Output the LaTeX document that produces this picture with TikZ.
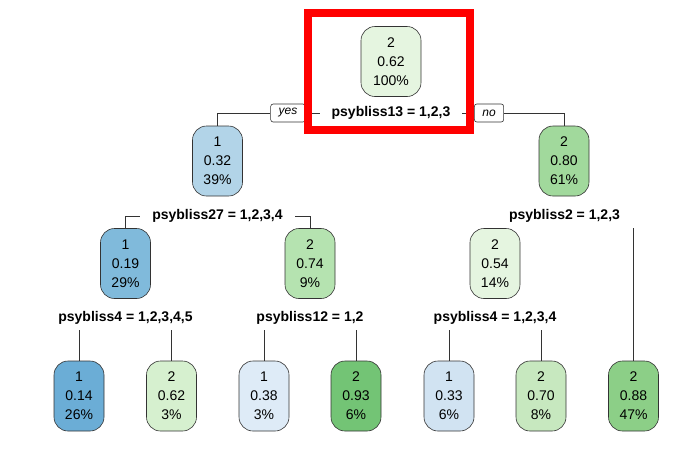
\documentclass[tikz,border=0pt]{standalone}
\usepackage{fontspec}
\setmainfont{Liberation Sans}
\usepackage{xcolor}
\definecolor{blueI}{rgb}{0.42,0.68,0.84}
\definecolor{blueII}{rgb}{0.50,0.73,0.86}
\definecolor{blueIII}{rgb}{0.70,0.83,0.91}
\definecolor{blueIV}{rgb}{0.82,0.89,0.95}
\definecolor{blueV}{rgb}{0.87,0.92,0.97}
\definecolor{greenI}{rgb}{0.90,0.96,0.88}
\definecolor{greenII}{rgb}{0.84,0.94,0.81}
\definecolor{greenIII}{rgb}{0.78,0.91,0.75}
\definecolor{greenIV}{rgb}{0.71,0.89,0.69}
\definecolor{greenV}{rgb}{0.63,0.85,0.61}
\definecolor{greenVI}{rgb}{0.55,0.81,0.53}
\definecolor{greenVII}{rgb}{0.45,0.77,0.46}
\usepackage{tikz}
\usetikzlibrary{backgrounds}

\begin{document}
\begin{tikzpicture}[x=1pt, y=-1pt,
	knot/.style={rectangle, draw=black!80, line width=0.6pt, rounded corners=14pt, align=center,
	             minimum width=50pt, minimum height=70pt, inner sep=0pt,
	             font=\fontsize{14}{19}\selectfont},
	split/.style={fill=white, font=\bfseries\fontsize{14}{16}\selectfont,
	              inner xsep=12pt, inner ysep=5pt},
	tag/.style={rectangle, draw=black!80, fill=white, rounded corners=2.5pt, line width=0.6pt,
	            font=\itshape\fontsize{12}{13}\selectfont, inner xsep=8pt, inner ysep=1pt,
	            minimum height=18pt},
	edge/.style={draw=black!80, line width=0.8pt},
	hilite/.style={draw=red, line width=8pt}
	]
\useasboundingbox (0,0) rectangle (700,459);

\node[knot, fill=greenI, minimum width=60pt] (root) at (391,61.5) {2\\0.62\\100\%};
\node[split] (s1) at (391,113) {psybliss13 = 1,2,3};
\node[tag] (yes) at (288,113) {yes};
\node[tag] (no) at (489,113) {no};

\node[knot, fill=blueIII] (n2) at (217.5,161) {1\\0.32\\39\%};
\node[knot, fill=greenV] (n3) at (564,161) {2\\0.80\\61\%};
\node[split] (s2) at (217.5,216) {psybliss27 = 1,2,3,4};
\node[split, inner xsep=16pt] (s3) at (564.5,216) {psybliss2 = 1,2,3};

\node[knot, fill=blueII] (n4) at (125.5,263.5) {1\\0.19\\29\%};
\node[knot, fill=greenIV] (n5) at (310,263.5) {2\\0.74\\9\%};
\node[knot, fill=greenI] (n6) at (495,263.5) {2\\0.54\\14\%};
\node[split] (s4) at (125.5,318) {psybliss4 = 1,2,3,4,5};
\node[split] (s5) at (310,318) {psybliss12 = 1,2};
\node[split] (s6) at (495,318) {psybliss4 = 1,2,3,4};

\node[knot, fill=blueI] (l1) at (79,396) {1\\0.14\\26\%};
\node[knot, fill=greenII] (l2) at (171.5,396) {2\\0.62\\3\%};
\node[knot, fill=blueV] (l3) at (264,396) {1\\0.38\\3\%};
\node[knot, fill=greenVII] (l4) at (356,396) {2\\0.93\\6\%};
\node[knot, fill=blueIV] (l5) at (449,396) {1\\0.33\\6\%};
\node[knot, fill=greenIII] (l6) at (541,396) {2\\0.70\\8\%};
\node[knot, fill=greenVI] (l7) at (633.5,396) {2\\0.88\\47\%};

\begin{scope}[on background layer]
\draw[edge] (n2.north) |- (yes.west);
\draw[edge] (yes.east) -- (no.west);
\draw[edge] (no.east) -| (n3.north);
\draw[edge] (n4.north) |- (s2.center) -| (n5.north);
\draw[edge] (n6.north) |- (s3.center) -| (l7.north);
\draw[edge] (l1.north) |- (s4.center) -| (l2.north);
\draw[edge] (l3.north) |- (s5.center) -| (l4.north);
\draw[edge] (l5.north) |- (s6.center) -| (l6.north);
\end{scope}

\draw[hilite] (308,12.5) rectangle (469.5,129.5);
\end{tikzpicture}
\end{document}
